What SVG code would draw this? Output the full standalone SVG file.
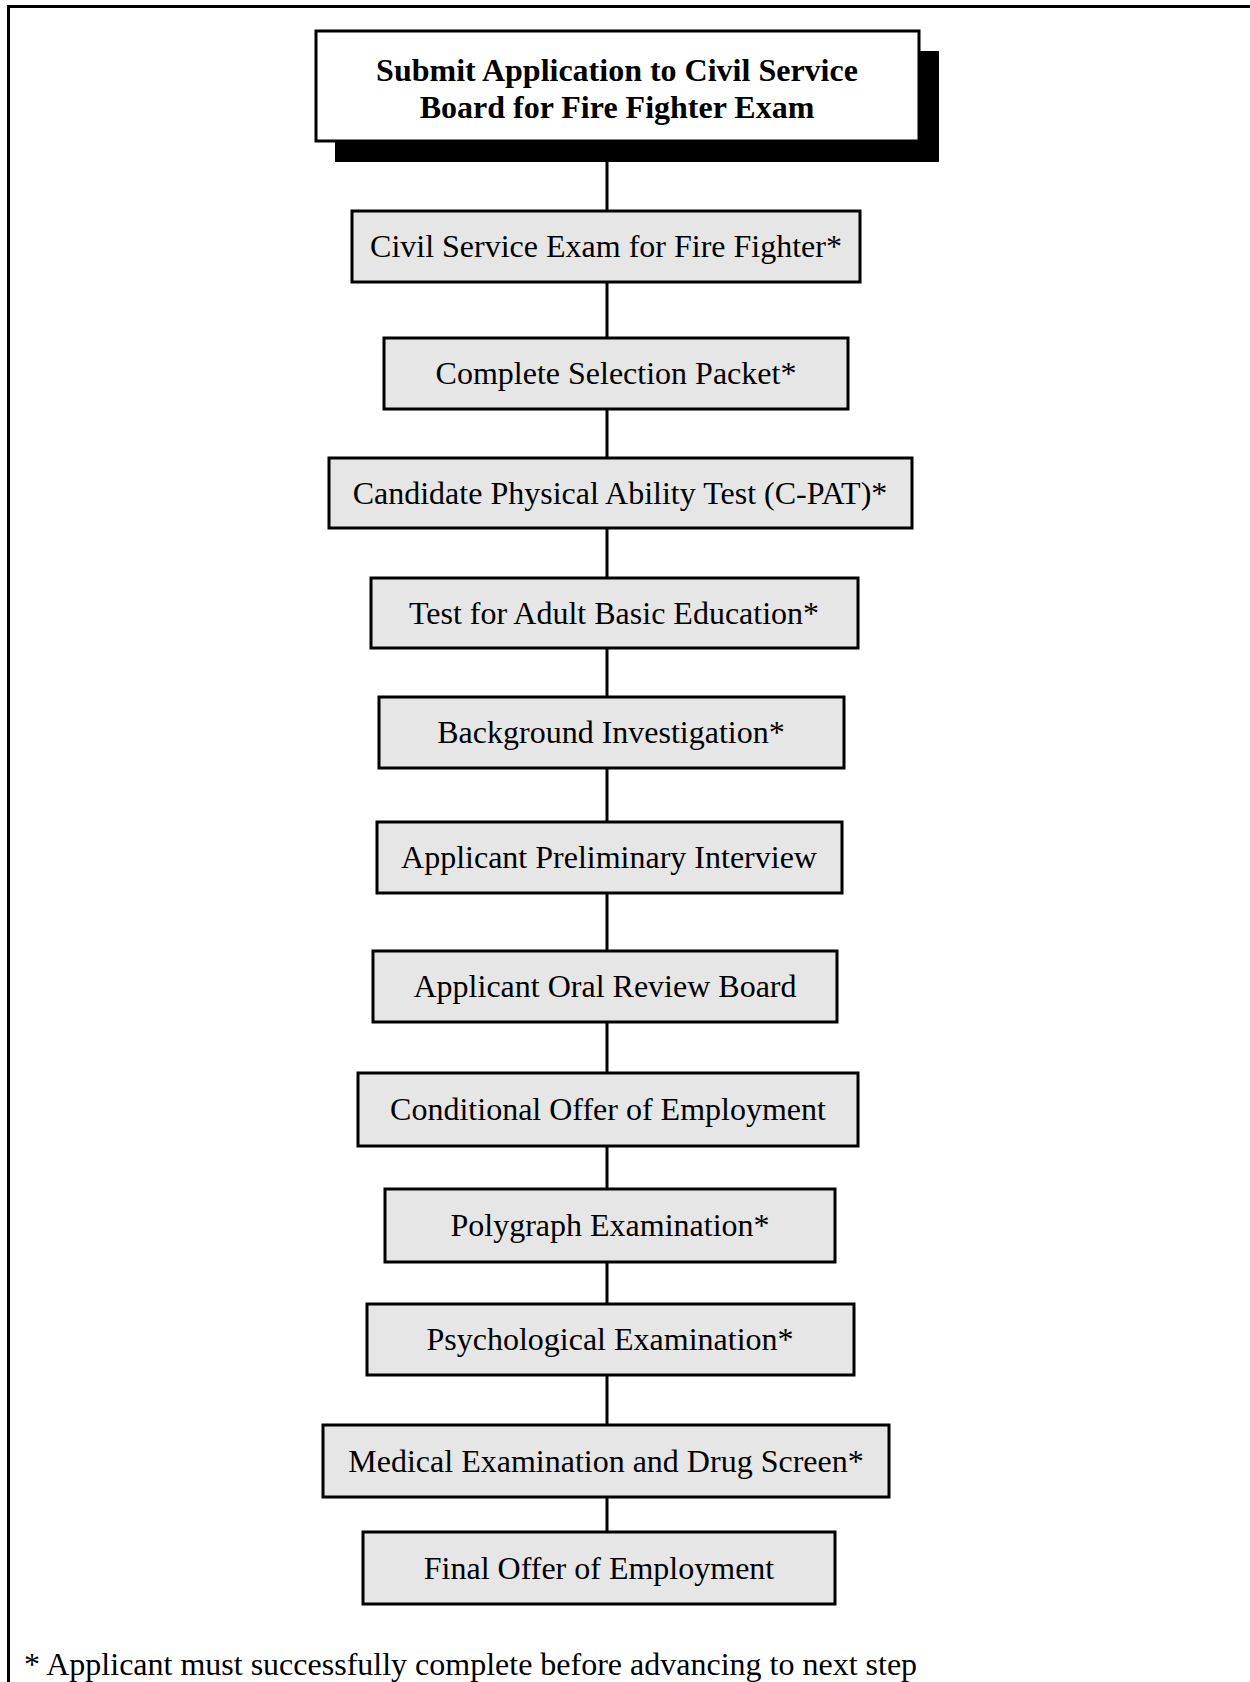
<svg xmlns="http://www.w3.org/2000/svg" width="1250" height="1682" viewBox="0 0 1250 1682">
<style>
.box{fill:#e6e6e6;stroke:#000;stroke-width:3}
.t{font-family:"Liberation Serif","Times New Roman",serif;font-size:32px;fill:#000;text-anchor:middle}
.tb{font-family:"Liberation Serif","Times New Roman",serif;font-size:32px;font-weight:bold;fill:#000;text-anchor:middle}
.c{stroke:#000;stroke-width:3;fill:none}
</style>
<rect width="1250" height="1682" fill="#fff"/>
<path d="M8.5 1682 V6.5 H1250" fill="none" stroke="#000" stroke-width="3"/>
<g id="connectors">
<line class="c" x1="607" y1="141" x2="607" y2="211"/>
<line class="c" x1="607" y1="282" x2="607" y2="338"/>
<line class="c" x1="607" y1="409" x2="607" y2="458"/>
<line class="c" x1="607" y1="528" x2="607" y2="578"/>
<line class="c" x1="607" y1="648" x2="607" y2="697"/>
<line class="c" x1="607" y1="768" x2="607" y2="822"/>
<line class="c" x1="607" y1="893" x2="607" y2="951"/>
<line class="c" x1="607" y1="1022" x2="607" y2="1073"/>
<line class="c" x1="607" y1="1146" x2="607" y2="1189"/>
<line class="c" x1="607" y1="1262" x2="607" y2="1304"/>
<line class="c" x1="607" y1="1375" x2="607" y2="1425"/>
<line class="c" x1="607" y1="1497" x2="607" y2="1532"/>
</g>
<g id="n0">
<rect x="335" y="51" width="604" height="111" fill="#000"/>
<rect x="316" y="31" width="603" height="110" fill="#fff" stroke="#000" stroke-width="3"/>
<text class="tb" x="617" y="81">Submit Application to Civil Service</text>
<text class="tb" x="617" y="118">Board for Fire Fighter Exam</text>
</g>
<g id="n1"><rect class="box" x="352" y="211" width="508" height="71"/><text class="t" x="606" y="257">Civil Service Exam for Fire Fighter*</text></g>
<g id="n2"><rect class="box" x="384" y="338" width="464" height="71"/><text class="t" x="616" y="384">Complete Selection Packet*</text></g>
<g id="n3"><rect class="box" x="329" y="458" width="583" height="70"/><text class="t" x="620" y="504">Candidate Physical Ability Test (C-PAT)*</text></g>
<g id="n4"><rect class="box" x="371" y="578" width="487" height="70"/><text class="t" x="614" y="624">Test for Adult Basic Education*</text></g>
<g id="n5"><rect class="box" x="379" y="697" width="465" height="71"/><text class="t" x="611" y="743">Background Investigation*</text></g>
<g id="n6"><rect class="box" x="377" y="822" width="465" height="71"/><text class="t" x="609" y="868">Applicant Preliminary Interview</text></g>
<g id="n7"><rect class="box" x="373" y="951" width="464" height="71"/><text class="t" x="605" y="997">Applicant Oral Review Board</text></g>
<g id="n8"><rect class="box" x="358" y="1073" width="500" height="73"/><text class="t" x="608" y="1120">Conditional Offer of Employment</text></g>
<g id="n9"><rect class="box" x="385" y="1189" width="450" height="73"/><text class="t" x="610" y="1236">Polygraph Examination*</text></g>
<g id="n10"><rect class="box" x="367" y="1304" width="487" height="71"/><text class="t" x="610" y="1350">Psychological Examination*</text></g>
<g id="n11"><rect class="box" x="323" y="1425" width="566" height="72"/><text class="t" x="606" y="1472">Medical Examination and Drug Screen*</text></g>
<g id="n12"><rect class="box" x="363" y="1532" width="472" height="72"/><text class="t" x="599" y="1579">Final Offer of Employment</text></g>
<text x="24" y="1675" font-family="'Liberation Serif','Times New Roman',serif" font-size="32" fill="#000">* Applicant must successfully complete before advancing to next step</text>
</svg>
